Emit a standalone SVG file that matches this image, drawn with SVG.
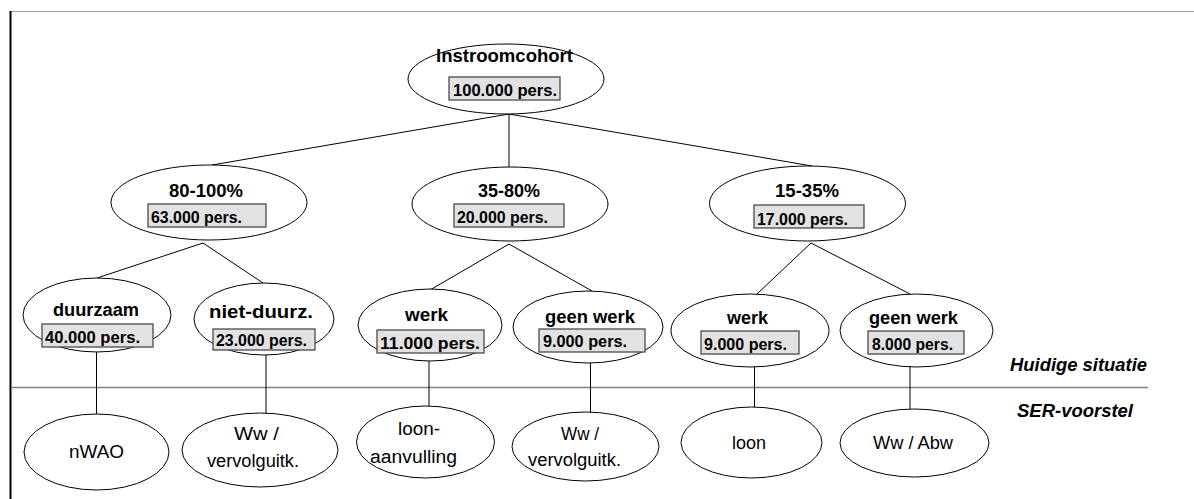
<svg xmlns="http://www.w3.org/2000/svg" width="1194" height="499" viewBox="0 0 1194 499">
<style>
.e{fill:#fff;stroke:#000;stroke-width:1}
.b{fill:#e2e2e2;stroke:#4a4a4a;stroke-width:1.3}
.t{font-family:"Liberation Sans",Arial,sans-serif;font-weight:bold;font-size:18px;fill:#000}
.p{font-family:"Liberation Sans",Arial,sans-serif;font-weight:bold;font-size:16.5px;fill:#000}
.r{font-family:"Liberation Sans",Arial,sans-serif;font-size:18px;fill:#000}
.i{font-family:"Liberation Sans",Arial,sans-serif;font-weight:bold;font-style:italic;font-size:17.5px;fill:#000}
.c line{stroke:#000;stroke-width:1}
</style>
<rect width="1194" height="499" fill="#fff"/>
<g id="frame">
<line x1="10" y1="11.5" x2="1194" y2="11.5" stroke="#a0a0a0" stroke-width="1"/>
<line x1="10.5" y1="11" x2="10.5" y2="499" stroke="#000" stroke-width="2"/>
<line x1="12" y1="387.5" x2="1148" y2="387.5" stroke="#808080" stroke-width="1.5"/>
</g>
<g class="c" id="connectors">
<line x1="509" y1="114" x2="212" y2="165"/>
<line x1="509" y1="114" x2="509" y2="167"/>
<line x1="509" y1="114" x2="812" y2="166"/>
<line x1="203" y1="243" x2="97" y2="278"/>
<line x1="203" y1="243" x2="263" y2="283"/>
<line x1="509" y1="244" x2="430" y2="290"/>
<line x1="509" y1="244" x2="592" y2="291"/>
<line x1="811" y1="243" x2="757" y2="294"/>
<line x1="811" y1="243" x2="910" y2="294"/>
<line x1="96.5" y1="352" x2="96.5" y2="414"/>
<line x1="266" y1="355" x2="266" y2="413"/>
<line x1="429" y1="361" x2="429" y2="406"/>
<line x1="590.5" y1="363" x2="590.5" y2="412"/>
<line x1="754.5" y1="367" x2="754.5" y2="407"/>
<line x1="910" y1="366" x2="910" y2="409"/>
</g>
<g id="n-top">
<ellipse class="e" cx="506" cy="79" rx="98" ry="35"/>
<text class="t" x="436" y="62" textLength="137" lengthAdjust="spacingAndGlyphs">Instroomcohort</text>
<rect class="b" x="449" y="77" width="111" height="23"/>
<text class="p" x="453" y="96" textLength="104" lengthAdjust="spacingAndGlyphs">100.000 pers.</text>
</g>
<g id="n-80-100">
<ellipse class="e" cx="209" cy="202.5" rx="98" ry="37.5"/>
<text class="t" x="169" y="197" textLength="74" lengthAdjust="spacingAndGlyphs">80-100%</text>
<rect class="b" x="148" y="204" width="118" height="23"/>
<text class="p" x="151" y="223" textLength="91" lengthAdjust="spacingAndGlyphs">63.000 pers.</text>
</g>
<g id="n-35-80">
<ellipse class="e" cx="510" cy="204" rx="98" ry="37"/>
<text class="t" x="478" y="197" textLength="62" lengthAdjust="spacingAndGlyphs">35-80%</text>
<rect class="b" x="454" y="204" width="110" height="23"/>
<text class="p" x="457" y="223" textLength="91" lengthAdjust="spacingAndGlyphs">20.000 pers.</text>
</g>
<g id="n-15-35">
<ellipse class="e" cx="807.5" cy="203.5" rx="98" ry="37.5"/>
<text class="t" x="775" y="197" textLength="64" lengthAdjust="spacingAndGlyphs">15-35%</text>
<rect class="b" x="754" y="205" width="110" height="23"/>
<text class="p" x="757" y="225" textLength="91" lengthAdjust="spacingAndGlyphs">17.000 pers.</text>
</g>
<g id="n-duurzaam">
<ellipse class="e" cx="97" cy="315" rx="74" ry="37"/>
<text class="t" x="53" y="316" textLength="86" lengthAdjust="spacingAndGlyphs">duurzaam</text>
<rect class="b" x="42" y="324" width="111" height="23"/>
<text class="p" x="45" y="343" textLength="95" lengthAdjust="spacingAndGlyphs">40.000 pers.</text>
</g>
<g id="n-nietduurz">
<ellipse class="e" cx="264" cy="319" rx="70" ry="36"/>
<text class="t" x="209" y="318" textLength="104" lengthAdjust="spacingAndGlyphs">niet-duurz.</text>
<rect class="b" x="213" y="329" width="102" height="21"/>
<text class="p" x="216" y="346" textLength="91" lengthAdjust="spacingAndGlyphs">23.000 pers.</text>
</g>
<g id="n-werk1">
<ellipse class="e" cx="430" cy="325" rx="72" ry="36"/>
<text class="t" x="405" y="321" textLength="43" lengthAdjust="spacingAndGlyphs">werk</text>
<rect class="b" x="377" y="330" width="107" height="23"/>
<text class="p" x="380" y="349" textLength="100" lengthAdjust="spacingAndGlyphs">11.000 pers.</text>
</g>
<g id="n-geenwerk1">
<ellipse class="e" cx="588" cy="327" rx="75" ry="36"/>
<text class="t" x="545" y="323" textLength="90" lengthAdjust="spacingAndGlyphs">geen werk</text>
<rect class="b" x="539" y="329" width="106" height="23"/>
<text class="p" x="543" y="347" textLength="84" lengthAdjust="spacingAndGlyphs">9.000 pers.</text>
</g>
<g id="n-werk2">
<ellipse class="e" cx="750" cy="330.5" rx="79" ry="36.5"/>
<text class="t" x="727" y="324" textLength="41" lengthAdjust="spacingAndGlyphs">werk</text>
<rect class="b" x="701" y="331" width="98" height="23"/>
<text class="p" x="704" y="350" textLength="83" lengthAdjust="spacingAndGlyphs">9.000 pers.</text>
</g>
<g id="n-geenwerk2">
<ellipse class="e" cx="916.5" cy="330.5" rx="76.5" ry="36.5"/>
<text class="t" x="869" y="324" textLength="89" lengthAdjust="spacingAndGlyphs">geen werk</text>
<rect class="b" x="868" y="331" width="96" height="23"/>
<text class="p" x="872" y="350" textLength="81" lengthAdjust="spacingAndGlyphs">8.000 pers.</text>
</g>
<g id="label-huidig">
<text class="i" x="1010" y="371" textLength="137" lengthAdjust="spacingAndGlyphs">Huidige situatie</text>
</g>
<g id="label-ser">
<text class="i" x="1017" y="417" textLength="116" lengthAdjust="spacingAndGlyphs">SER-voorstel</text>
</g>
<g id="n-nwao">
<ellipse class="e" cx="96.5" cy="452" rx="72.5" ry="38"/>
<text class="r" x="69" y="458" textLength="55" lengthAdjust="spacingAndGlyphs">nWAO</text>
</g>
<g id="n-ww1">
<ellipse class="e" cx="260" cy="450" rx="78" ry="37"/>
<text class="r" x="234" y="440" textLength="45" lengthAdjust="spacingAndGlyphs">Ww /</text>
<text class="r" x="207" y="467" textLength="92" lengthAdjust="spacingAndGlyphs">vervolguitk.</text>
</g>
<g id="n-loonaanv">
<ellipse class="e" cx="425.5" cy="442" rx="69" ry="36"/>
<text class="r" x="398" y="435" textLength="42" lengthAdjust="spacingAndGlyphs">loon-</text>
<text class="r" x="370" y="463" textLength="87" lengthAdjust="spacingAndGlyphs">aanvulling</text>
</g>
<g id="n-ww2">
<ellipse class="e" cx="585.5" cy="446.5" rx="73.5" ry="34.5"/>
<text class="r" x="561" y="440" textLength="38" lengthAdjust="spacingAndGlyphs">Ww /</text>
<text class="r" x="528" y="466" textLength="93" lengthAdjust="spacingAndGlyphs">vervolguitk.</text>
</g>
<g id="n-loon">
<ellipse class="e" cx="751.5" cy="442.5" rx="70.5" ry="35.5"/>
<text class="r" x="732" y="449" textLength="34" lengthAdjust="spacingAndGlyphs">loon</text>
</g>
<g id="n-wwabw">
<ellipse class="e" cx="914.5" cy="443" rx="74.5" ry="34"/>
<text class="r" x="873" y="449" textLength="80" lengthAdjust="spacingAndGlyphs">Ww / Abw</text>
</g>
</svg>
